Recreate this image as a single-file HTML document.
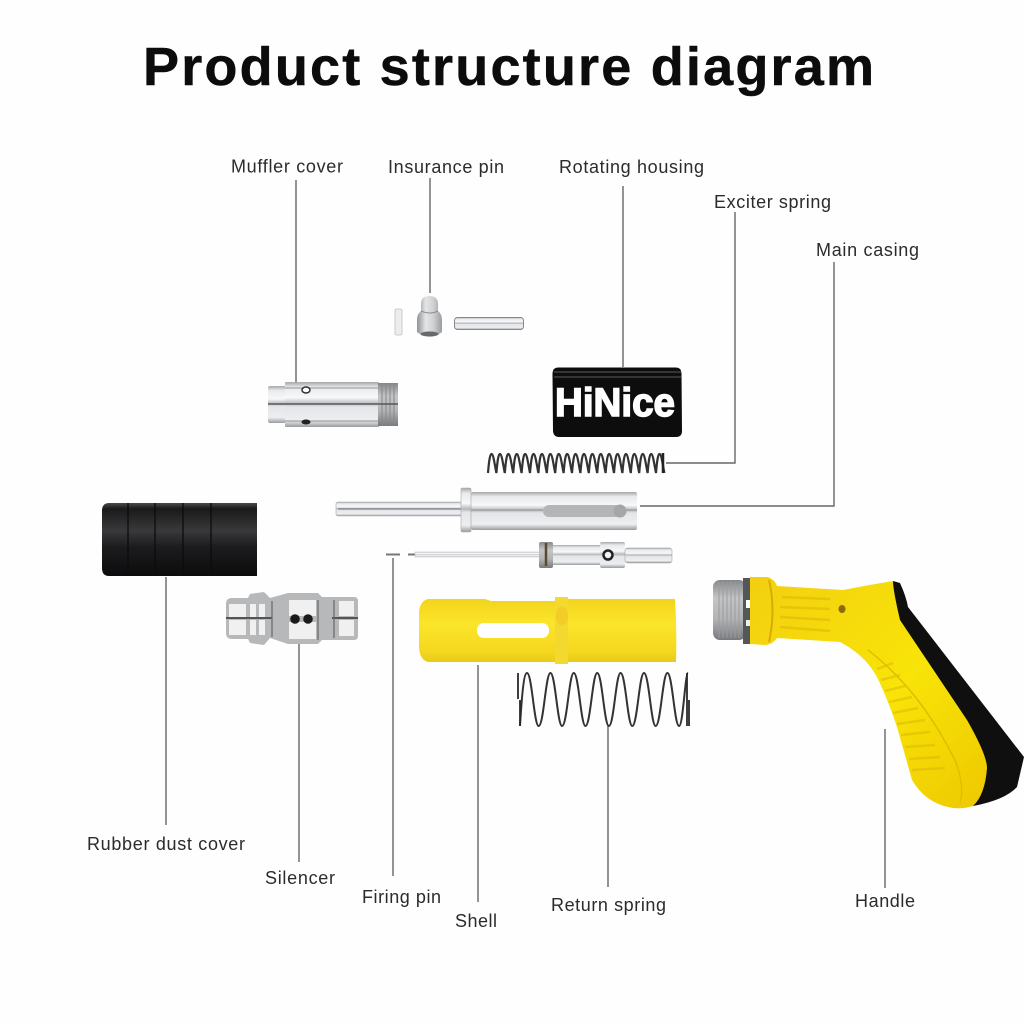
<!DOCTYPE html>
<html><head><meta charset="utf-8"><style>
html,body{margin:0;padding:0;background:#fefefe;width:1024px;height:1024px;overflow:hidden}
svg{display:block}
text{font-family:"Liberation Sans",sans-serif;fill:#2b2b2b;font-size:18px}
</style></head><body>
<svg width="1024" height="1024" viewBox="0 0 1024 1024" xmlns="http://www.w3.org/2000/svg">
<defs>
<linearGradient id="m" x1="0" y1="0" x2="0" y2="1"><stop offset="0" stop-color="#a5a7aa"/><stop offset=".12" stop-color="#e8eaec"/><stop offset=".35" stop-color="#f7f8f9"/><stop offset=".48" stop-color="#b5b8bc"/><stop offset=".55" stop-color="#e3e5e8"/><stop offset=".85" stop-color="#eceef0"/><stop offset="1" stop-color="#989b9f"/></linearGradient>
<linearGradient id="r" x1="0" y1="0" x2="0" y2="1"><stop offset="0" stop-color="#4a4a4c"/><stop offset=".08" stop-color="#1a1a1b"/><stop offset=".38" stop-color="#39393b"/><stop offset=".6" stop-color="#1c1c1e"/><stop offset="1" stop-color="#0c0c0d"/></linearGradient>
<linearGradient id="y" x1="0" y1="0" x2="0" y2="1"><stop offset="0" stop-color="#f2d21c"/><stop offset=".4" stop-color="#fbe52a"/><stop offset=".8" stop-color="#f5d820"/><stop offset="1" stop-color="#e8c818"/></linearGradient>
<linearGradient id="h" x1="0" y1="0" x2="1" y2="1"><stop offset="0" stop-color="#f2cf10"/><stop offset=".55" stop-color="#f8e408"/><stop offset="1" stop-color="#eec800"/></linearGradient>
<linearGradient id="t" x1="0" y1="0" x2="0" y2="1"><stop offset="0" stop-color="#85878a"/><stop offset=".3" stop-color="#c4c5c7"/><stop offset=".65" stop-color="#b3b4b6"/><stop offset="1" stop-color="#77797c"/></linearGradient>
<linearGradient id="k" x1="0" y1="0" x2="1" y2="0"><stop offset="0" stop-color="#8f9194"/><stop offset=".35" stop-color="#e4e5e6"/><stop offset=".65" stop-color="#d0d1d3"/><stop offset="1" stop-color="#9a9c9f"/></linearGradient>
</defs>

<text x="143" y="85" textLength="731" lengthAdjust="spacing" style="font-size:54px;font-weight:700;fill:#0c0c0c;stroke:#0c0c0c;stroke-width:.5">Product structure diagram</text>

<g>
<text x="231" y="172.500" textLength="112" lengthAdjust="spacing">Muffler cover</text>
<text x="388" y="173" textLength="116" lengthAdjust="spacing">Insurance pin</text>
<text x="559" y="173" textLength="145" lengthAdjust="spacing">Rotating housing</text>
<text x="714" y="208" textLength="117" lengthAdjust="spacing">Exciter spring</text>
<text x="816" y="256" textLength="103" lengthAdjust="spacing">Main casing</text>
<text x="87" y="850" textLength="158" lengthAdjust="spacing">Rubber dust cover</text>
<text x="265" y="884" textLength="70" lengthAdjust="spacing">Silencer</text>
<text x="362" y="903" textLength="79" lengthAdjust="spacing">Firing pin</text>
<text x="455" y="927" textLength="42" lengthAdjust="spacing">Shell</text>
<text x="551" y="911" textLength="115" lengthAdjust="spacing">Return spring</text>
<text x="855" y="907" textLength="60" lengthAdjust="spacing">Handle</text>
</g>

<g stroke="#666" stroke-width="1.400" fill="none">
<path d="M296 180V382"/>
<path d="M430 178V293"/>
<path d="M623 186V367"/>
<path d="M735 212V463H666"/>
<path d="M834 262V506H640"/>
<path d="M166 577V825"/>
<path d="M299 644V862"/>
<path d="M393 558V876"/>
<path d="M478 665V902"/>
<path d="M608 725V887"/>
<path d="M885 729V888"/>
</g>

<!-- pins -->
<rect x="395" y="309" width="7" height="26" rx="1.500" fill="#eceded" stroke="#c0c1c3" stroke-width=".8"/>
<path d="M421 311V304Q421 296 429.500 296Q438 296 438 304V311Q442 314 442 320V332Q436 337 429.500 337Q423 337 417 332V320Q417 314 421 311Z" fill="url(#k)"/>
<path d="M421 311Q430 315 438 311" stroke="#8a8c8f" stroke-width="1" fill="none"/>
<ellipse cx="429.500" cy="334" rx="9" ry="2.500" fill="#67696c"/>
<rect x="454.500" y="317.500" width="69" height="12" rx="3" fill="url(#m)" stroke="#888"/>

<!-- muffler -->
<rect x="268" y="386" width="18" height="37" rx="2" fill="url(#m)"/>
<rect x="285" y="382" width="94" height="45" rx="1" fill="url(#m)"/>
<rect x="378" y="383" width="20" height="43" fill="url(#t)"/>
<g stroke="#888" stroke-width="1"><path d="M382 383v43M386 383v43M390 383v43M394 383v43"/></g>
<path d="M268 404H398" stroke="#444" stroke-width="1.200"/>
<path d="M285 388H378M285 421H378" stroke="#909295" stroke-width="1"/>
<ellipse cx="306" cy="390" rx="4" ry="3" fill="#fff" stroke="#333" stroke-width="1.500"/>
<ellipse cx="306" cy="422" rx="4.500" ry="2.500" fill="#222"/>

<!-- rotating housing -->
<path d="M558 367.500H676Q681 367.500 681.500 373L682 431Q682 437 676 437H559Q553.500 437 553 431L552.500 373Q553 367.500 558 367.500Z" fill="#0d0d0d"/>
<path d="M554 372H681M554 377H681" stroke="#3a3a3b" stroke-width="1.800"/>
<text x="555" y="416" textLength="120" lengthAdjust="spacingAndGlyphs" style="font-size:40px;font-weight:700;fill:#fff;stroke:#fff;stroke-width:1.500">HiNice</text>

<!-- exciter spring -->
<path d="M488 473c1 -12 2 -19 3.500 -19c2 0 3 10 4.900 19c1 -12 2 -19 3.500 -19c2 0 3 10 4.900 19c1 -12 2 -19 3.500 -19c2 0 3 10 4.900 19c1 -12 2 -19 3.500 -19c2 0 3 10 4.900 19c1 -12 2 -19 3.500 -19c2 0 3 10 4.900 19c1 -12 2 -19 3.500 -19c2 0 3 10 4.900 19c1 -12 2 -19 3.500 -19c2 0 3 10 4.900 19c1 -12 2 -19 3.500 -19c2 0 3 10 4.900 19c1 -12 2 -19 3.500 -19c2 0 3 10 4.900 19c1 -12 2 -19 3.500 -19c2 0 3 10 4.900 19c1 -12 2 -19 3.500 -19c2 0 3 10 4.900 19c1 -12 2 -19 3.500 -19c2 0 3 10 4.900 19c1 -12 2 -19 3.500 -19c2 0 3 10 4.900 19c1 -12 2 -19 3.500 -19c2 0 3 10 4.900 19c1 -12 2 -19 3.500 -19c2 0 3 10 4.900 19c1 -12 2 -19 3.500 -19c2 0 3 10 4.900 19c1 -12 2 -19 3.500 -19c2 0 3 10 4.900 19c1 -12 2 -19 3.500 -19c2 0 3 10 4.900 19c1 -12 2 -19 3.500 -19c2 0 3 10 4.900 19c1 -12 2 -19 3.500 -19c2 0 3 10 4.900 19c1 -12 2 -19 3.500 -19c2 0 3 10 4.900 19" fill="none" stroke="#333" stroke-width="2.200"/>
<path d="M663 453V473" stroke="#222" stroke-width="2.500"/>

<!-- main casing -->
<rect x="336" y="502" width="126" height="14" rx="2" fill="url(#m)" stroke="#a5a5a7" stroke-width=".6"/>
<path d="M338 509H462" stroke="#666" stroke-width="1"/>
<rect x="471" y="492" width="166" height="38" rx="2" fill="url(#m)"/>
<rect x="461" y="488" width="10" height="44" rx="1.500" fill="url(#m)" stroke="#a5a6a8" stroke-width=".6"/>
<path d="M471 510H637" stroke="#909295" stroke-width="1"/>
<rect x="543" y="505" width="82" height="12" rx="6" fill="#b3b5b7"/>
<circle cx="620" cy="511" r="6.500" fill="#a4a6a8"/>

<!-- firing pin -->
<path d="M386 554.500H400M408 554.500H417" stroke="#777" stroke-width="2"/>
<rect x="415" y="552" width="125" height="5" fill="url(#m)" stroke="#bbb" stroke-width=".5"/>
<rect x="539" y="542" width="14" height="26" rx="2" fill="url(#t)"/>
<path d="M546 543V566" stroke="#5c4a2a" stroke-width="2.500"/>
<rect x="553" y="545" width="48" height="20" fill="url(#m)"/>
<rect x="600" y="542" width="25" height="26" rx="2" fill="url(#m)"/>
<rect x="625" y="548" width="47" height="15" rx="2.500" fill="url(#m)" stroke="#999" stroke-width=".5"/>
<circle cx="608" cy="555" r="4.500" fill="#f2f2f2" stroke="#222" stroke-width="2.500"/>

<!-- rubber -->
<path d="M109 503H257V576H109Q102 576 102 568V511Q102 503 109 503Z" fill="url(#r)"/>
<path d="M128 503V576M155 503V576M183 503V576M211 503V576" stroke="#0c0c0c" stroke-width="1.300"/>

<!-- silencer -->
<path d="M232 598H248L250 594L264 592L270 598L288 593H318L322 597H354Q358 597 358 601V636Q358 640 354 640H322L318 644H288L270 638L264 645L250 643L248 639H232Q226 639 226 633V604Q226 598 232 598Z" fill="#b7b8ba"/>
<g fill="#f0f0f1">
<rect x="229" y="604" width="17" height="13"/><rect x="229" y="620" width="17" height="15"/>
<rect x="250" y="604" width="6" height="13"/><rect x="250" y="620" width="6" height="15"/>
<rect x="259" y="604" width="6" height="13"/><rect x="259" y="620" width="6" height="15"/>
<rect x="289" y="600" width="27" height="16"/><rect x="289" y="622" width="27" height="17"/>
<rect x="339" y="601" width="15" height="15"/><rect x="339" y="620" width="15" height="16"/>
</g>
<path d="M226 618H272M332 618H358" stroke="#333" stroke-width="1.400"/>
<path d="M272 601V637M318 600V640M334 600V638" stroke="#6a6b6e" stroke-width="1.300" fill="none"/>
<circle cx="295" cy="619" r="4.800" fill="#1a1a1a"/>
<circle cx="308" cy="619" r="4.800" fill="#1a1a1a"/>

<!-- shell -->
<path d="M428 599H485L491 601H555V597H568V599H675Q677 630 676 662H568V664H555V662H428Q420 660 419 648V612Q420 601 428 599Z" fill="url(#y)"/>
<rect x="555" y="597" width="13" height="67" fill="#f3d830"/>
<rect x="477" y="623" width="72" height="15" rx="7" fill="#fff"/>
<ellipse cx="562" cy="616" rx="6" ry="9" fill="#f4c020" opacity=".5"/>

<!-- return spring -->
<path d="M527 673c-3 0 -5 20 -7 53M527 673c5 0 7 53 11.700 53c5 0 7 -53 11.700 -53c5 0 7 53 11.700 53c5 0 7 -53 11.700 -53c5 0 7 53 11.700 53c5 0 7 -53 11.700 -53c5 0 7 53 11.700 53c5 0 7 -53 11.700 -53c5 0 7 53 11.700 53c5 0 7 -53 11.700 -53c5 0 7 53 11.700 53c5 0 7 -53 11.700 -53c5 0 7 53 11.700 53c4 0 6 -53 9 -53" fill="none" stroke="#333" stroke-width="2"/>
<path d="M518 673V699M520 700V726M687 673V726M689 700V726" stroke="#2a2a2a" stroke-width="1.800"/>

<!-- handle -->
<rect x="713" y="580" width="33" height="60" rx="7" fill="url(#t)"/>
<g stroke="#9a9c9e" stroke-width="1"><path d="M719 582v56M723 582v56M727 582v56M731 582v56M735 582v56M739 582v56"/></g>
<rect x="743" y="578" width="8" height="66" fill="#55565a"/>
<rect x="746" y="600" width="5" height="8" fill="#fff"/><rect x="746" y="620" width="5" height="6" fill="#eee"/>
<path d="M893 581L900 583Q906 596 908 607L1024 757L1017 787Q1005 800 973 806L960 790L890 600Z" fill="#0f0f10"/>
<path d="M750 577H768Q775 580 777 586L843 590Q868 585 893 581Q893 590 900 620L967 720Q987 755 987 768Q985 795 973 806Q960 810 948 807Q925 802 912 780Q905 755 897 727Q888 700 877 677Q865 655 840 642L777 638Q773 644 766 645L750 644Z" fill="url(#h)"/>
<g stroke="#d9b000" stroke-width="2.500" fill="none" opacity=".45">
<path d="M782 597L830 599M780 607L830 609M780 617L830 620M780 627L830 631"/>
<path d="M877 669L893 663M881 680L900 675M885 691L905 686M889 702L912 697M893 713L918 708M897 724L925 720M901 735L930 732M905 747L935 745M909 759L940 757M912 770L945 768"/>
</g>
<path d="M769 580Q776 610 769 642" stroke="#d6ad00" stroke-width="2" fill="none"/>
<path d="M868 650Q920 690 955 760Q965 785 960 803" stroke="#e3bc00" stroke-width="1.500" fill="none"/>
<ellipse cx="842" cy="609" rx="3.500" ry="4" fill="#8a6a10"/>
</svg>
</body></html>
